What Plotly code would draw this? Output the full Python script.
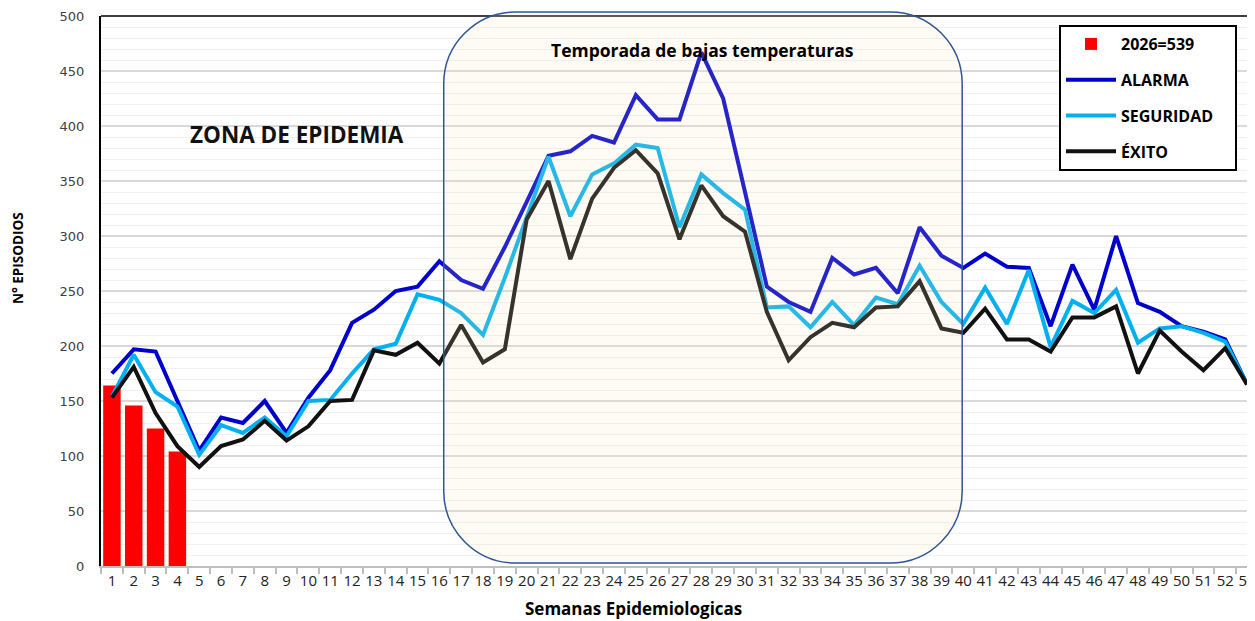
import plotly.graph_objects as go

# ---------------- data ----------------
semanas = list(range(1, 54))
semanas_2026 = [1, 2, 3, 4]
casos_2026 = [164, 146, 125, 104]

alarma = [175, 197, 195, 151, 105, 135, 130, 150, 121, 153,
          178, 221, 233, 250, 254, 277, 260, 252, 290, 331,
          373, 377, 391, 385, 428, 406, 406, 467, 425, 340,
          254, 240, 231, 280, 265, 271, 248, 308, 282, 271,
          284, 272, 271, 218, 274, 233, 300, 239, 231, 218,
          213, 206, 165]

seguridad = [154, 192, 158, 145, 101, 128, 121, 135, 118, 150,
             151, 175, 197, 202, 247, 242, 230, 210, 262, 318,
             372, 318, 356, 366, 383, 380, 308, 356, 339, 324,
             235, 236, 217, 240, 219, 244, 238, 273, 240, 220,
             253, 220, 269, 199, 241, 230, 251, 203, 216, 218,
             212, 204, 165]

exito = [153, 181, 139, 109, 90, 109, 115, 132, 114, 127,
         150, 151, 196, 192, 203, 184, 219, 185, 197, 315,
         350, 279, 334, 362, 378, 357, 297, 346, 318, 304,
         231, 187, 208, 221, 217, 235, 236, 259, 216, 212,
         234, 206, 206, 195, 226, 226, 236, 175, 214, 195,
         178, 198, 165]

tick_labels = [str(s) for s in semanas]

# ---------------- figure geometry (page has an 8px body margin) ----------------
OFF = 8
W, H = 1255 - OFF, 621 - OFF
PL, PT, PB, PR = 101, 16, 566, 1255          # plot area in page pixels
ML, MT = PL - OFF, PT - OFF
MB = H - (PB - OFF)
MR = W - (PR - OFF)
PW, PH = PR - PL, PB - PT
XR = [0.5, 0.5 + PW / 21.83]


def xp(v):
    return (v - XR[0]) / (XR[1] - XR[0])


def px(page_x):
    return (page_x - PL) / PW


def py(page_y):
    return 1 - (page_y - PT) / PH


fig = go.Figure()

fig.add_trace(go.Bar(x=semanas_2026, y=casos_2026, name="2026=539",
                     marker=dict(color="#FF0000", line=dict(width=0)),
                     width=0.8, legendgroup="a"))
fig.add_trace(go.Scatter(x=semanas, y=alarma, name="ALARMA", mode="lines",
                         line=dict(color="#0000CC", width=4), legendgroup="b"))
fig.add_trace(go.Scatter(x=semanas, y=seguridad, name="SEGURIDAD" + "\u00a0" * 4,
                         mode="lines",
                         line=dict(color="#00B0F0", width=4), legendgroup="c"))
fig.add_trace(go.Scatter(x=semanas, y=exito, name="ÉXITO", mode="lines",
                         line=dict(color="#111111", width=4), legendgroup="d"))

# rounded rectangle: temporada de bajas temperaturas
x0, x1 = xp(16.2), xp(39.95)
y0, y1 = py(563), py(12)
rx, ry = 72 / PW, 72 / PH
k = 0.5523
path = (f"M {x0 + rx},{y1} L {x1 - rx},{y1} "
        f"C {x1 - rx + k*rx},{y1} {x1},{y1 - ry + k*ry} {x1},{y1 - ry} "
        f"L {x1},{y0 + ry} "
        f"C {x1},{y0 + ry - k*ry} {x1 - rx + k*rx},{y0} {x1 - rx},{y0} "
        f"L {x0 + rx},{y0} "
        f"C {x0 + rx - k*rx},{y0} {x0},{y0 + ry - k*ry} {x0},{y0 + ry} "
        f"L {x0},{y1 - ry} "
        f"C {x0},{y1 - ry + k*ry} {x0 + rx - k*rx},{y1} {x0 + rx},{y1} Z")

shapes = [
    dict(type="rect", xref="paper", yref="paper",
         x0=px(175), x1=px(443), y0=py(155), y1=py(107),
         fillcolor="white", line=dict(width=0), layer="between"),
    dict(type="line", xref="paper", yref="paper", x0=0, x1=1, y0=1, y1=1,
         line=dict(color="black", width=1.5), layer="above"),
    dict(type="path", xref="paper", yref="paper", path=path,
         fillcolor="rgba(245,230,180,0.16)",
         line=dict(color="#2F5597", width=1.5), layer="above"),
]

annotations = [
    dict(text="<b>Temporada de bajas temperaturas</b>", xref="paper", yref="paper",
         x=px(702), y=py(50), xanchor="center", yanchor="middle", showarrow=False,
         font=dict(family="Open Sans", size=17.5, color="black")),
    dict(text="<b>ZONA DE EPIDEMIA</b>", xref="paper", yref="paper",
         x=px(297), y=py(135), xanchor="center", yanchor="middle", showarrow=False,
         font=dict(family="Open Sans", size=22.5, color="#111111")),
    dict(text="<b>Semanas Epidemiologicas</b>", xref="paper", yref="paper",
         x=px(633), y=py(608), xanchor="center", yanchor="middle", showarrow=False,
         font=dict(family="Open Sans", size=17, color="black")),
    dict(text="<b>N° EPISODIOS</b>", xref="paper", yref="paper",
         x=px(18), y=py(258), xanchor="center", yanchor="middle",
         showarrow=False, textangle=-90,
         font=dict(family="Open Sans", size=13.5, color="black")),
]

fig.update_layout(
    width=W, height=H,
    margin=dict(l=ML, r=MR, t=MT, b=MB, autoexpand=False),
    paper_bgcolor="white", plot_bgcolor="white",
    shapes=shapes, annotations=annotations,
    legend=dict(x=px(1059), y=py(25), xanchor="left", yanchor="top",
                bgcolor="white", bordercolor="black", borderwidth=2,
                font=dict(family="Open Sans", size=16, color="black", weight="bold"),
                traceorder="grouped", tracegroupgap=12, itemwidth=50),
    showlegend=True,
)

fig.update_xaxes(
    range=XR, tickmode="array", tickvals=semanas, ticktext=tick_labels,
    ticks="", showgrid=False, zeroline=False, ticklabeloverflow="allow",
    showline=True, linecolor="#BFBFBF", linewidth=1.5,
    tickfont=dict(family="Open Sans", size=15, color="#222222"),
    minor=dict(tickmode="array", tickvals=[s + 0.5 for s in [0] + semanas],
               ticks="outside", ticklen=6, tickcolor="#BFBFBF", tickwidth=1.5,
               showgrid=False),
)
fig.update_yaxes(
    range=[0, 500], dtick=50, tick0=0,
    showgrid=True, gridcolor="#D9D9D9", gridwidth=1.5, zeroline=False,
    showline=True, linecolor="black", linewidth=2, ticks="",
    tickfont=dict(family="DejaVu Sans", size=13, color="#404040"),
    ticklabelstandoff=12,
    minor=dict(dtick=10, showgrid=True, gridcolor="#F0F0F0", gridwidth=1),
)

fig.write_html("out.html")
